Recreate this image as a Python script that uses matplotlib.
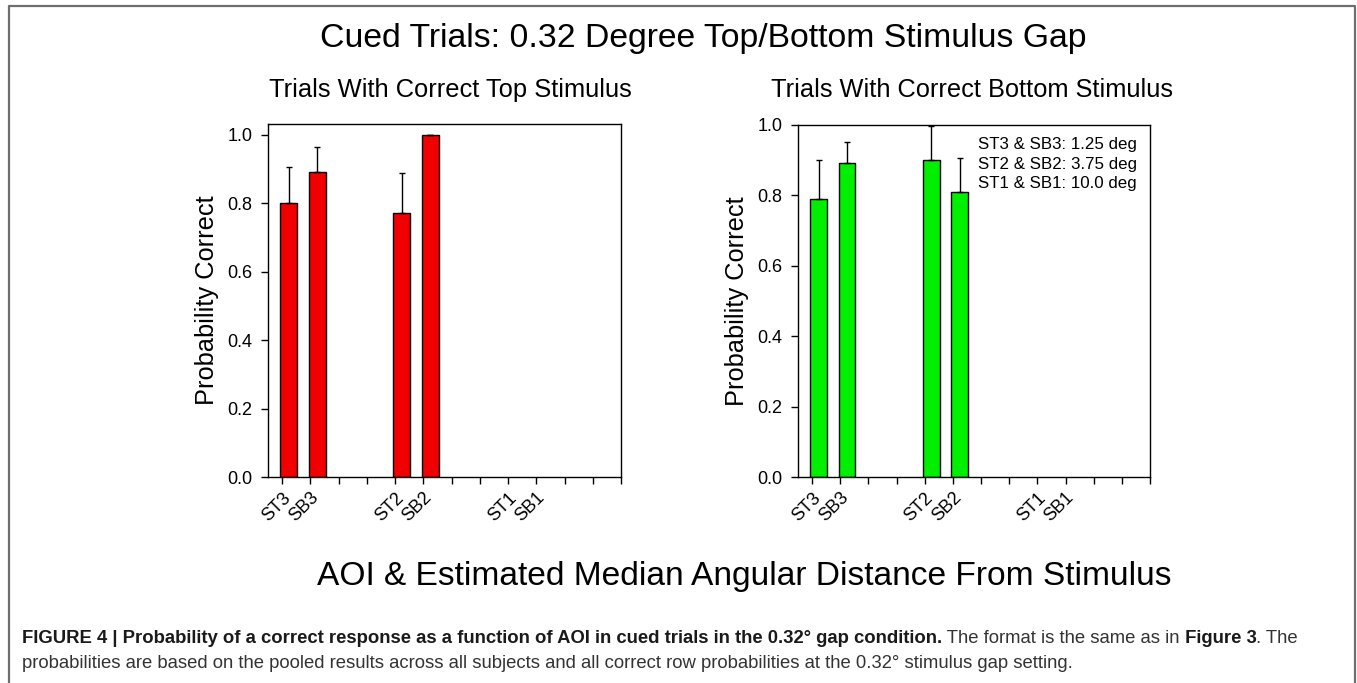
import matplotlib
matplotlib.use('Agg')
import matplotlib.pyplot as plt
from matplotlib import font_manager
from matplotlib.lines import Line2D
from matplotlib.ticker import FormatStrFormatter
import numpy as np

plt.rcParams['font.family'] = ['Liberation Sans', 'DejaVu Sans']

# values
tick_labels = ['ST3', 'SB3', '', '', 'ST2', 'SB2', '', '', 'ST1', 'SB1', '', '', '']
aoi = ['ST3', 'SB3', 'ST2', 'SB2']
aoi_pos = [1, 2, 5, 6]
top_prob = [0.80, 0.89, 0.77, 1.00]
top_err = [0.104, 0.075, 0.118, 0.0]
bottom_prob = [0.79, 0.89, 0.90, 0.81]
bottom_err = [0.11, 0.062, 0.097, 0.096]
legend_lines = ['ST3 & SB3: 1.25 deg', 'ST2 & SB2: 3.75 deg', 'ST1 & SB1: 10.0 deg']

W, H = 1357, 683
fig = plt.figure(figsize=(W / 100, H / 100), dpi=100)


def draw_panel(ax, probs, errs, color, ymax):
    x = np.array(aoi_pos) + 0.24
    ax.bar(x, probs, width=0.6, color=color, edgecolor='black', linewidth=1.0, zorder=2)
    ax.errorbar(x, probs, yerr=[np.zeros(len(errs)), errs], fmt='none', ecolor='black',
                elinewidth=1.0, capsize=2.5, capthick=1.0, zorder=3)
    ax.set_xlim(0.5, 13)
    ax.set_ylim(0, ymax)
    ax.set_xticks(np.arange(1, 14))
    ax.set_xticklabels(tick_labels, rotation=45, ha='right', rotation_mode='anchor', fontsize=13)
    ax.set_yticks(np.arange(0, 1.01, 0.2))
    ax.yaxis.set_major_formatter(FormatStrFormatter('%.1f'))
    ax.tick_params(direction='out', length=5.3, width=1.0, labelsize=13)
    ax.tick_params(axis='y', pad=6)
    ax.set_ylabel('Probability Correct', fontsize=18.3)
    ax.yaxis.set_label_coords(-0.14, 0.5)
    for s in ax.spines.values():
        s.set_linewidth(1.0)


ax1 = fig.add_axes([268 / W, 1 - 477 / H, 353 / W, 353 / H])
draw_panel(ax1, top_prob, top_err, '#f00000', 1.031)
ax2 = fig.add_axes([798 / W, 1 - 477 / H, 352 / W, 352.3 / H])
draw_panel(ax2, bottom_prob, bottom_err, '#00ee00', 1.0)
ax2.text(0.512, 0.965, '\n'.join(legend_lines), transform=ax2.transAxes, fontsize=12.2,
         va='top', ha='left', linespacing=1.38)

# titles
fig.text(703 / W, 1 - 38 / H, 'Cued Trials: 0.32 Degree Top/Bottom Stimulus Gap',
         fontsize=24.3, ha='center', va='center')
fig.text(450 / W, 1 - 90 / H, 'Trials With Correct Top Stimulus', fontsize=18.4, ha='center', va='center')
fig.text(972 / W, 1 - 90 / H, 'Trials With Correct Bottom Stimulus', fontsize=18.3, ha='center', va='center')
fig.text(744 / W, 1 - 576 / H, 'AOI & Estimated Median Angular Distance From Stimulus',
         fontsize=24.1, ha='center', va='center')

# frame round the figure
fig.add_artist(Line2D([8.5 / W, 8.5 / W, 1355 / W, 1355 / W], [0, 1 - 6 / H, 1 - 6 / H, 0],
                      color='#6e6e6e', linewidth=1.6, transform=fig.transFigure))

# caption, bold and regular pieces
names = {f.name for f in font_manager.fontManager.ttflist}
cap_family = 'Liberation Sans Narrow' if 'Liberation Sans Narrow' in names else 'Liberation Sans'
line1 = [('FIGURE 4 | Probability of a correct response as a function of AOI in cued trials in the 0.32\u00b0 gap condition.', 'bold'),
         (' The format is the same as in', 'normal'),
         (' Figure 3', 'bold'),
         ('. The', 'normal')]
line2 = [('probabilities are based on the pooled results across all subjects and all correct row probabilities at the 0.32\u00b0 stimulus gap setting.', 'normal')]
renderer = fig.canvas.get_renderer()


def put_line(pieces, x0, y0, fs):
    x = x0
    arts = []
    for txt, wt in pieces:
        t = fig.text(x / W, 1 - y0 / H, txt, fontsize=fs, fontweight=wt, family=cap_family,
                     ha='left', va='baseline', color='#1a1a1a' if wt == 'bold' else '#333333')
        x = t.get_window_extent(renderer).x1
        arts.append(t)
    return arts, x


arts, xend = put_line(line1, 22, 643, 12)
fs = 12 * (1297 - 22) / (xend - 22)
for a in arts:
    a.remove()
put_line(line1, 22, 643, fs)
put_line(line2, 22, 668, fs)

fig.savefig('out.png', dpi=100)
